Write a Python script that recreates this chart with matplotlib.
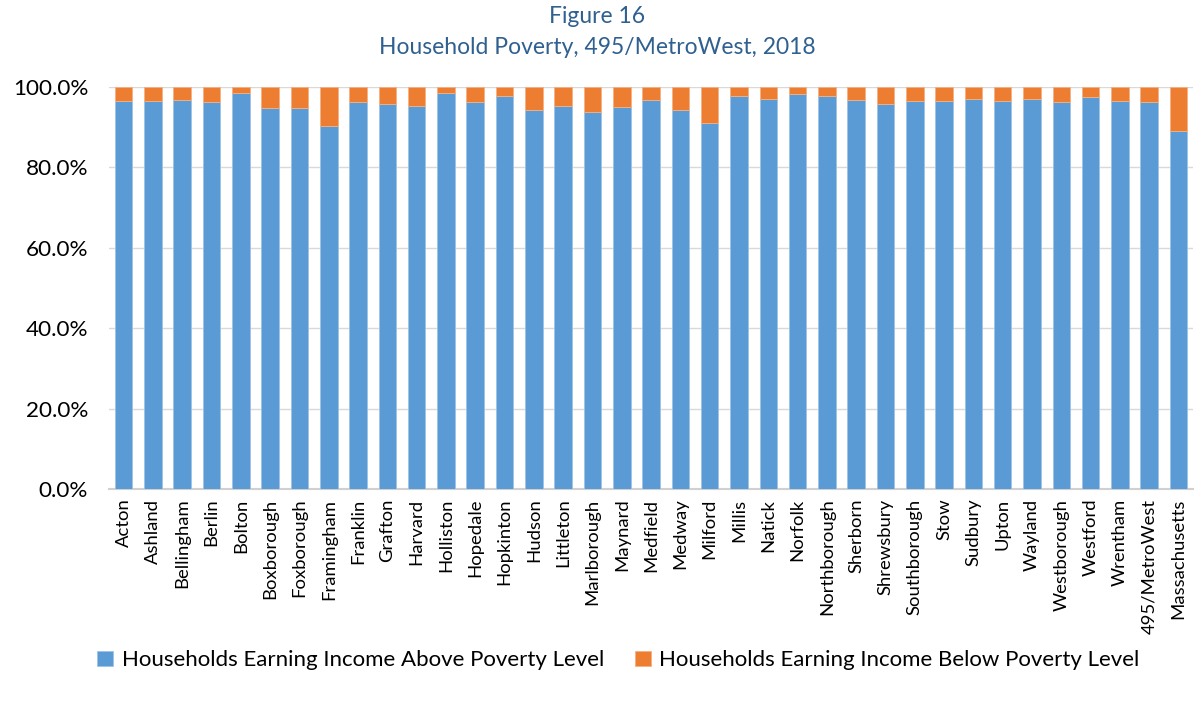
import matplotlib
matplotlib.use("Agg")
import matplotlib.pyplot as plt
import numpy as np
from matplotlib.ticker import FuncFormatter

plt.rcParams['font.family'] = ['Lato', 'DejaVu Sans']

towns = ["Acton", "Ashland", "Bellingham", "Berlin", "Bolton", "Boxborough", "Foxborough",
         "Framingham", "Franklin", "Grafton", "Harvard", "Holliston", "Hopedale", "Hopkinton",
         "Hudson", "Littleton", "Marlborough", "Maynard", "Medfield", "Medway", "Milford",
         "Millis", "Natick", "Norfolk", "Northborough", "Sherborn", "Shrewsbury", "Southborough",
         "Stow", "Sudbury", "Upton", "Wayland", "Westborough", "Westford", "Wrentham",
         "495/MetroWest", "Massachusetts"]
above = [96.3, 96.3, 96.7, 96.1, 98.5, 94.6, 94.6, 90.1, 96.1, 95.6, 95.2, 98.5, 96.1, 97.7,
         94.1, 95.2, 93.7, 94.8, 96.7, 94.1, 91.0, 97.7, 97.0, 98.1, 97.7, 96.7, 95.6, 96.3,
         96.3, 97.0, 96.3, 97.0, 96.1, 97.5, 96.3, 96.1, 89.0]
below = [100 - a for a in above]

fig = plt.figure(figsize=(11.94, 7.04), dpi=100)
ax = fig.add_axes([0.0913, 0.3054, 0.908, 0.5717])

x = np.arange(len(towns))
blue = "#5B9BD5"
orange = "#ED7D31"
ax.bar(x, above, width=0.6, color=blue, edgecolor="#9DC3E6", linewidth=0.6, zorder=3,
       label="Households Earning Income Above Poverty Level")
ax.bar(x, below, width=0.6, bottom=above, color=orange, edgecolor="#F4B183", linewidth=0.6,
       zorder=3, label="Households Earning Income Below Poverty Level")

ax.set_xlim(-0.5, len(towns) - 0.5)
ax.set_ylim(0, 100)
ax.set_yticks([0, 20, 40, 60, 80, 100])
ax.yaxis.set_major_formatter(FuncFormatter(lambda v, p: f"{v:.1f}%"))
ax.tick_params(axis='y', labelsize=16.2, length=0, pad=15, labelcolor="#000000")
ax.set_xticks(x)
ax.set_xticklabels(towns, rotation=90, fontsize=13.3)
ax.tick_params(axis='x', length=0, pad=7)
ax.yaxis.grid(True, color="#D9D9D9", linewidth=1.0, zorder=0)
ax.set_axisbelow(True)

for s in ["left", "right", "top"]:
    ax.spines[s].set_visible(False)
ax.spines["bottom"].set_color("#D0D0D0")
ax.spines["bottom"].set_linewidth(1.5)

fig.text(0.5, 0.976, "Figure 16", ha="center", va="center", fontsize=16.5, color="#2F6090")
fig.text(0.5, 0.933, "Household Poverty, 495/MetroWest, 2018", ha="center", va="center",
         fontsize=16.5, color="#2F6090")

fig.legend(loc="center", bbox_to_anchor=(0.518, 0.062), ncol=2, frameon=False, fontsize=16,
           handlelength=0.7, handleheight=0.7, columnspacing=1.4, handletextpad=0.4)

fig.savefig("out.png", dpi=100)
